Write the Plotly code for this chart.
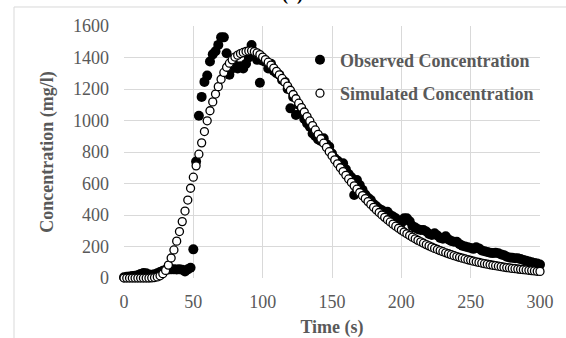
import plotly.graph_objects as go

# Sampling times (s), every 2 s from 0 to 300
time_s = list(range(0, 301, 2))

observed_conc = [
    5, 8, 10, 12, 14, 18, 26, 32, 30, 22,
    20, 24, 30, 38, 46, 52, 54, 55, 55, 54,
    55, 52, 42, 55, 65, 182, 740, 1030, 1150, 1245,
    1285, 1375, 1420, 1440, 1480, 1528, 1528, 1427, 1290, 1330,
    1350, 1330, 1345, 1330, 1360, 1400, 1479, 1420, 1385, 1240,
    1380, 1373, 1330, 1360, 1315, 1300, 1290, 1257, 1246, 1200,
    1077, 1150, 1035, 1100, 1056, 1010, 982, 960, 918, 900,
    880, 870, 887, 850, 834, 790, 760, 745, 720, 728,
    690, 660, 640, 527, 622, 590, 560, 530, 510, 495,
    470, 455, 440, 430, 420, 421, 400, 390, 379, 360,
    350, 379, 379, 360, 330, 320, 310, 305, 305, 295,
    280, 273, 284, 270, 255, 250, 265, 245, 235, 230,
    230, 215, 205, 200, 195, 190, 185, 195, 188, 175,
    170, 165, 160, 158, 160, 157, 150, 145, 135, 130,
    128, 125, 125, 120, 115, 110, 105, 100, 95, 92,
    85,
]

simulated_conc = [
    0, 0, 0, 0, 0, 0, 0, 0, 0, 0,
    1, 3, 7, 14, 27, 48, 82, 127, 178, 234,
    295, 358, 425, 495, 570, 640, 712, 786, 858, 930,
    998, 1062, 1118, 1168, 1215, 1262, 1305, 1338, 1364, 1385,
    1403, 1415, 1425, 1432, 1438, 1442, 1443, 1438, 1430, 1418,
    1403, 1387, 1370, 1352, 1333, 1312, 1290, 1267, 1243, 1218,
    1192, 1165, 1138, 1110, 1082, 1054, 1025, 997, 968, 940,
    912, 884, 856, 829, 802, 776, 750, 725, 700, 676,
    652, 629, 607, 585, 564, 543, 523, 504, 485, 467,
    449, 432, 416, 400, 385, 370, 356, 342, 329, 316,
    304, 292, 281, 270, 259, 249, 239, 230, 221, 212,
    204, 196, 188, 181, 174, 167, 160, 154, 148, 142,
    136, 131, 126, 121, 116, 112, 107, 103, 99, 95,
    91, 88, 84, 81, 78, 75, 72, 69, 66, 64,
    61, 59, 57, 55, 53, 51, 49, 47, 45, 43,
    42,
]

x_ticks = [0, 50, 100, 150, 200, 250, 300]
y_ticks = [0, 200, 400, 600, 800, 1000, 1200, 1400, 1600]

FONT = "Liberation Serif, Times New Roman, serif"
GREY = "#595959"
GRID = "#d9d9d9"

fig = go.Figure()

fig.add_trace(go.Scatter(
    x=time_s, y=observed_conc, mode="markers",
    name="<b>Observed Concentration</b>",
    legendgroup="obs",
    marker=dict(symbol="circle", size=10, color="black", line=dict(width=0)),
    cliponaxis=False,
))
fig.add_trace(go.Scatter(
    x=time_s, y=simulated_conc, mode="markers",
    name="<b>Simulated Concentration</b>",
    legendgroup="sim",
    marker=dict(symbol="circle", size=8, color="white",
                line=dict(width=1.3, color="black")),
    cliponaxis=False,
))

# Light frame around the chart area
fig.add_shape(type="rect", xref="paper", yref="paper",
              x0=-0.2644, x1=1.08, y0=-0.3, y1=1.0754,
              line=dict(color=GRID, width=1), fillcolor="rgba(0,0,0,0)",
              layer="below")

fig.add_annotation(text="<b>(a)</b>", xref="paper", yref="paper",
                   x=(292 - 124) / 416, y=1.0754, xanchor="center",
                   yanchor="bottom", showarrow=False,
                   font=dict(family=FONT, size=18, color="black"))

fig.update_layout(
    width=566, height=338,
    margin=dict(l=124, r=26, t=26, b=60),
    paper_bgcolor="white", plot_bgcolor="white",
    font=dict(family=FONT, size=18, color=GREY),
    showlegend=True,
    legend=dict(x=0.423, y=0.938, xanchor="left", yanchor="top",
                bgcolor="rgba(0,0,0,0)", borderwidth=0,
                traceorder="grouped", tracegroupgap=7,
                font=dict(family=FONT, size=18, color=GREY)),
    xaxis=dict(range=[0, 300], tickvals=x_ticks, showgrid=True,
               gridcolor=GRID, gridwidth=1, zeroline=False,
               showline=False, ticks="", ticklabelstandoff=11,
               automargin=False,
               tickfont=dict(family=FONT, size=18, color=GREY),
               title=dict(text="<b>Time (s)</b>", standoff=14,
                          font=dict(family=FONT, size=18, color=GREY))),
    yaxis=dict(range=[0, 1600], tickvals=y_ticks, showgrid=True,
               gridcolor=GRID, gridwidth=1, zeroline=False,
               showline=False, ticks="", ticklabelstandoff=14,
               automargin=False,
               tickfont=dict(family=FONT, size=18, color=GREY),
               title=dict(text="<b>Concentration (mg/l)</b>", standoff=14,
                          font=dict(family=FONT, size=18, color=GREY))),
)

fig.write_html("out.html")
